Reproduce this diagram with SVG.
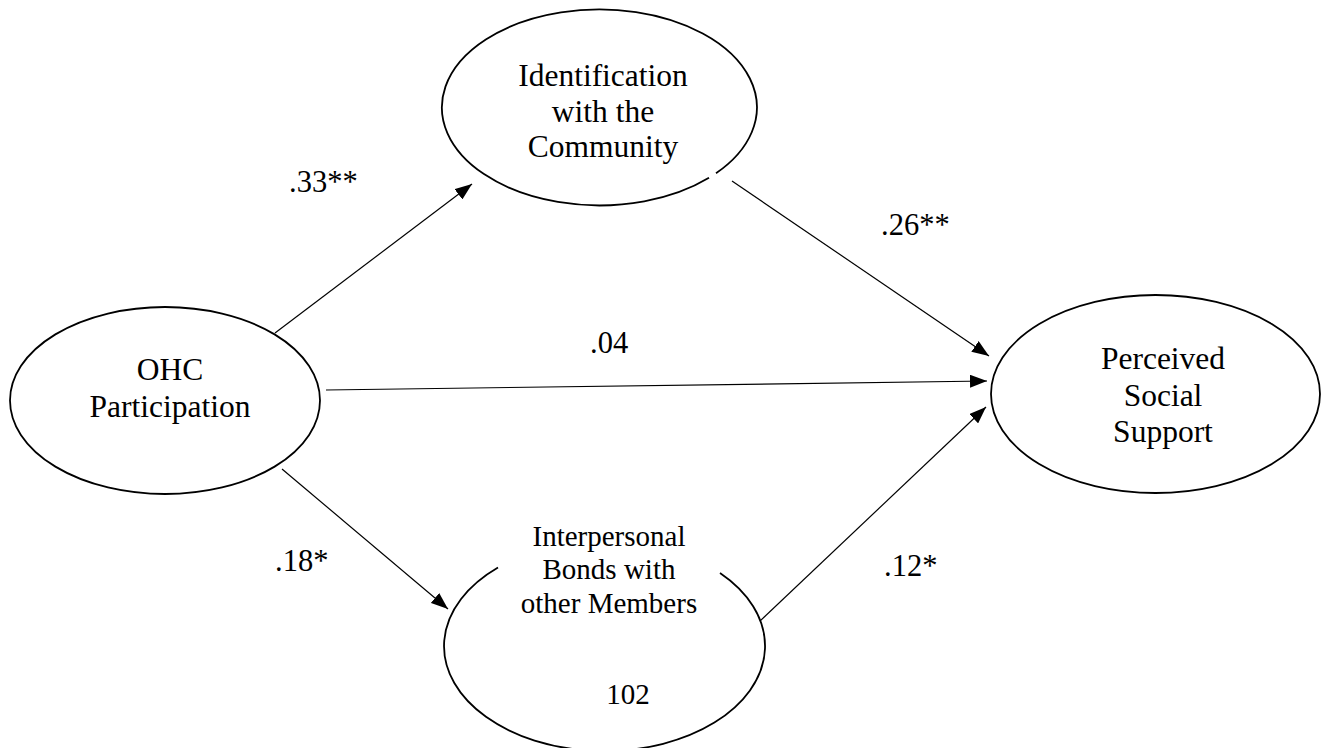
<svg xmlns="http://www.w3.org/2000/svg" width="1330" height="748" viewBox="0 0 1330 748">
  <style>
    .node { fill: none; stroke: #000; stroke-width: 1.8; }
    .edge { stroke: #000; stroke-width: 1.2; fill: none; marker-end: url(#arrow); }
    .t { font-family: "Liberation Serif", "Times New Roman", serif; font-size: 31.5px; fill: #000; text-anchor: middle; }
    .ts { font-family: "Liberation Serif", "Times New Roman", serif; font-size: 29px; fill: #000; text-anchor: middle; }
    .lbl { font-family: "Liberation Serif", "Times New Roman", serif; font-size: 30.5px; fill: #000; }
  </style>
  <defs>
    <marker id="arrow" markerUnits="userSpaceOnUse" markerWidth="18" markerHeight="13" refX="17" refY="6.5" orient="auto">
      <path d="M0,0 L17,6.5 L0,13 z" fill="#000"/>
    </marker>
  </defs>
  <rect width="1330" height="748" fill="#fff"/>

  <g id="connectors">
    <line class="edge" x1="275" y1="333" x2="472" y2="184"/>
    <line class="edge" x1="732" y1="181" x2="989" y2="356"/>
    <line class="edge" x1="326" y1="390" x2="987" y2="381"/>
    <line class="edge" x1="282" y1="469" x2="448" y2="609"/>
    <line class="edge" x1="760" y1="621" x2="986" y2="407"/>
  </g>

  <g id="node-identification">
    <path class="node" d="M 716 173.3 A 157.5 98 0 1 0 709 177.8"/>
    <text class="t" x="603" y="86">Identification</text>
    <text class="t" x="603" y="122">with the</text>
    <text class="t" x="603" y="157">Community</text>
  </g>

  <g id="node-ohc">
    <ellipse class="node" cx="165" cy="400.5" rx="155" ry="93.5"/>
    <text class="t" x="170" y="380">OHC</text>
    <text class="t" x="170" y="417">Participation</text>
  </g>

  <g id="node-perceived">
    <ellipse class="node" cx="1155.5" cy="394" rx="164.5" ry="99"/>
    <text class="t" x="1163" y="369">Perceived</text>
    <text class="t" x="1163" y="406">Social</text>
    <text class="t" x="1163" y="442">Support</text>
  </g>

  <g id="node-interpersonal">
    <path class="node" d="M 720 573.1 A 160.5 105 0 1 1 498 567.5"/>
    <text class="ts" x="609" y="546">Interpersonal</text>
    <text class="ts" x="609" y="579">Bonds with</text>
    <text class="ts" x="609" y="613">other Members</text>
    <text class="ts" x="628" y="704">102</text>
  </g>

  <g id="labels">
    <text class="lbl" x="289" y="192">.33**</text>
    <text class="lbl" x="881" y="235">.26**</text>
    <text class="lbl" x="590" y="353">.04</text>
    <text class="lbl" x="275" y="571">.18*</text>
    <text class="lbl" x="884" y="576">.12*</text>
  </g>
</svg>
